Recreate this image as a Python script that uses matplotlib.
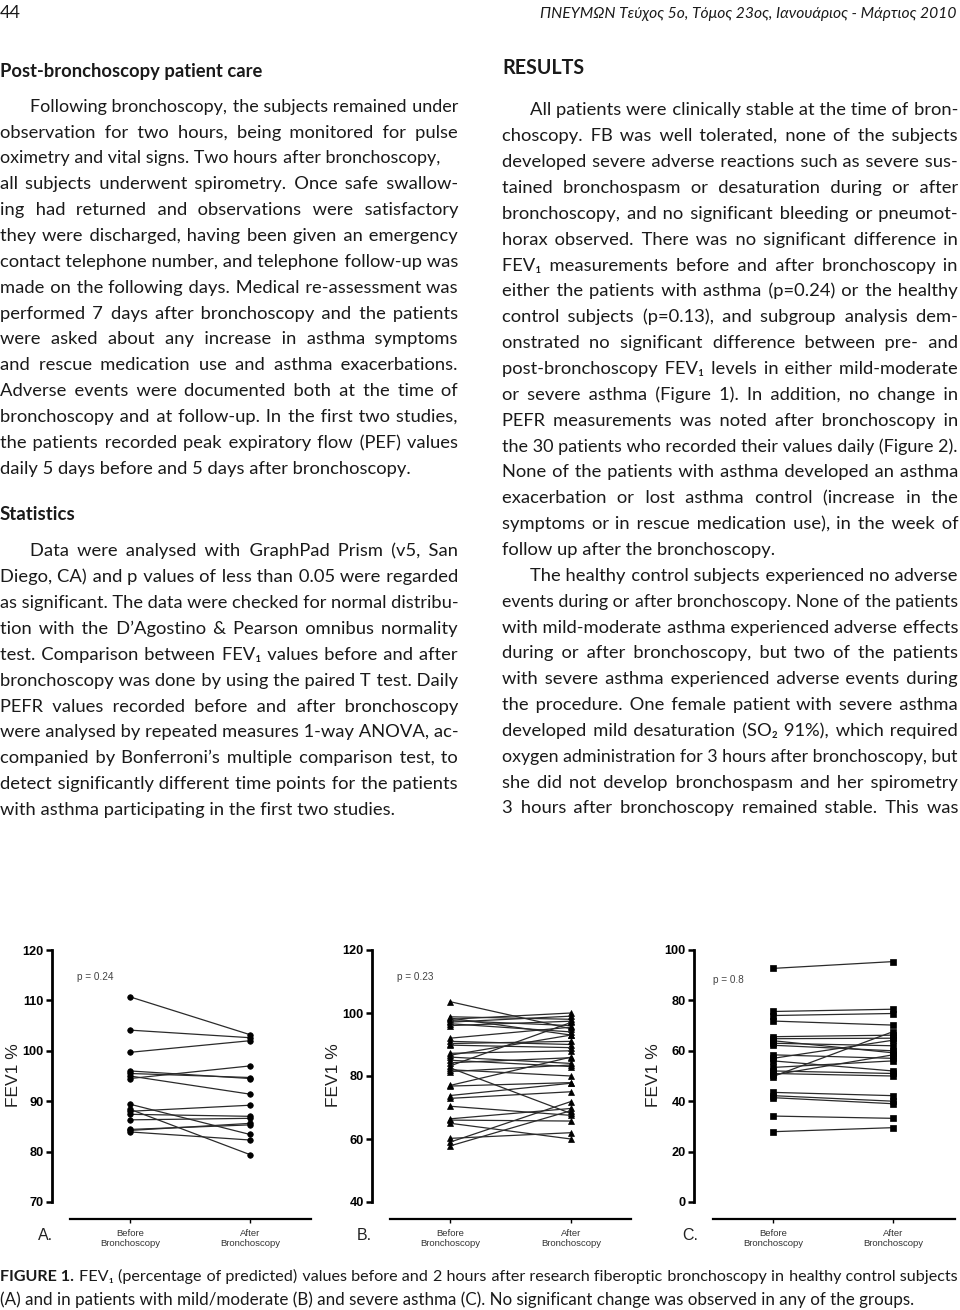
import matplotlib
matplotlib.use('Agg')
import matplotlib.pyplot as plt
from matplotlib.font_manager import FontProperties

# ---------------- data ----------------
a_before = [110.7, 104.1, 99.7, 96.0, 94.5, 95.0, 95.5, 89.4, 88.4, 88.0, 87.4, 86.3, 84.4, 84.2, 83.9]
a_after = [103.2, 102.6, 102.0, 94.5, 97.0, 91.4, 94.7, 83.4, 79.4, 89.2, 87.0, 86.6, 85.3, 85.6, 82.3]

b_before = [103.6, 98.8, 98.4, 98.0, 97.6, 97.1, 96.6, 96.0, 92.0, 91.0, 90.3, 89.8, 87.2, 86.6, 86.0,
            85.0, 84.2, 83.2, 82.6, 82.0, 81.4, 77.0, 76.8, 73.8, 72.9, 70.4, 66.4, 66.0, 65.0, 60.2, 59.0, 57.8]
b_after = [95.0, 98.0, 93.0, 100.0, 96.0, 99.0, 94.0, 97.4, 95.5, 90.0, 91.0, 89.0, 88.0, 93.0, 84.0,
           83.0, 85.8, 97.0, 68.1, 80.0, 83.5, 86.0, 77.9, 77.7, 75.0, 67.5, 69.7, 65.7, 60.0, 62.0, 71.9, 69.0]

c_before = [92.7, 75.6, 74.0, 71.8, 65.6, 64.8, 64.0, 63.0, 62.2, 58.4, 57.0, 56.0, 53.4, 52.0, 51.0,
            49.8, 50.4, 43.5, 42.2, 41.4, 34.1, 27.9]
c_after = [95.4, 76.5, 74.8, 70.2, 66.2, 65.0, 59.2, 62.0, 60.0, 57.0, 64.2, 52.0, 56.0, 51.0, 50.0,
           67.6, 58.4, 42.2, 40.0, 39.0, 33.2, 29.5]

x_labels = ['Before\nBronchoscopy', 'After\nBronchoscopy']
p_values = ['p = 0.24', 'p = 0.23', 'p = 0.8']
panel_letters = ['A.', 'B.', 'C.']

left_heading = 'Post-bronchoscopy patient care'
left_par = [
    "Following bronchoscopy, the subjects remained under",
    "observation for two hours, being monitored for pulse",
    "oximetry and vital signs. Two hours after bronchoscopy,",
    "all subjects underwent spirometry. Once safe swallow-",
    "ing had returned and observations were satisfactory",
    "they were discharged, having been given an emergency",
    "contact telephone number, and telephone follow-up was",
    "made on the following days. Medical re-assessment was",
    "performed 7 days after bronchoscopy and the patients",
    "were asked about any increase in asthma symptoms",
    "and rescue medication use and asthma exacerbations.",
    "Adverse events were documented both at the time of",
    "bronchoscopy and at follow-up. In the first two studies,",
    "the patients recorded peak expiratory flow (PEF) values",
    "daily 5 days before and 5 days after bronchoscopy.",
]
stats_heading = 'Statistics'
stats_par = [
    "Data were analysed with GraphPad Prism (v5, San",
    "Diego, CA) and p values of less than 0.05 were regarded",
    "as significant. The data were checked for normal distribu-",
    "tion with the D\u2019Agostino & Pearson omnibus normality",
    "test. Comparison between FEV\u2081 values before and after",
    "bronchoscopy was done by using the paired T test. Daily",
    "PEFR values recorded before and after bronchoscopy",
    "were analysed by repeated measures 1-way ANOVA, ac-",
    "companied by Bonferroni\u2019s multiple comparison test, to",
    "detect significantly different time points for the patients",
    "with asthma participating in the first two studies.",
]
right_heading = 'RESULTS'
right_par = [
    "All patients were clinically stable at the time of bron-",
    "choscopy. FB was well tolerated, none of the subjects",
    "developed severe adverse reactions such as severe sus-",
    "tained bronchospasm or desaturation during or after",
    "bronchoscopy, and no significant bleeding or pneumot-",
    "horax observed. There was no significant difference in",
    "FEV\u2081 measurements before and after bronchoscopy in",
    "either the patients with asthma (p=0.24) or the healthy",
    "control subjects (p=0.13), and subgroup analysis dem-",
    "onstrated no significant difference between pre- and",
    "post-bronchoscopy FEV\u2081 levels in either mild-moderate",
    "or severe asthma (Figure 1). In addition, no change in",
    "PEFR measurements was noted after bronchoscopy in",
    "the 30 patients who recorded their values daily (Figure 2).",
    "None of the patients with asthma developed an asthma",
    "exacerbation or lost asthma control (increase in the",
    "symptoms or in rescue medication use), in the week of",
    "follow up after the bronchoscopy.",
    "The healthy control subjects experienced no adverse",
    "events during or after bronchoscopy. None of the patients",
    "with mild-moderate asthma experienced adverse effects",
    "during or after bronchoscopy, but two of the patients",
    "with severe asthma experienced adverse events during",
    "the procedure. One female patient with severe asthma",
    "developed mild desaturation (SO\u2082 91%), which required",
    "oxygen administration for 3 hours after bronchoscopy, but",
    "she did not develop bronchospasm and her spirometry",
    "3 hours after bronchoscopy remained stable. This was",
]
page_number = '44'
journal = 'ΠΝΕΥΜΩΝ Τεύχος 5ο, Τόμος 23ος, Ιανουάριος - Μάρτιος 2010'
caption_lead = 'FIGURE 1.'
caption1 = ("FEV\u2081 (percentage of predicted) values before and 2 hours after research "
            "fiberoptic bronchoscopy in healthy control subjects")
caption2 = ("(A) and in patients with mild/moderate (B) and severe asthma (C). No significant "
            "change was observed in any of the groups.")

# ---------------- figure ----------------
W, H = 960, 1310
fig = plt.figure(figsize=(9.6, 13.1), dpi=100)
fig.patch.set_facecolor('white')
renderer = fig.canvas.get_renderer()
BODY = ['Lato', 'DejaVu Sans']
TXT = '#1a1a1a'


def tw(s, size, weight='normal', style='normal', family=BODY):
    fp = FontProperties(family=family, size=size, weight=weight, style=style)
    w, h, d = renderer.get_text_width_height_descent(s, fp, ismath=False)
    return w


def build_line(x0, x1, text, size, justify=True, weight='normal', style='normal',
               family=BODY, fit=False):
    """Return (string, size) so that the single text spans x0..x1 (justified)."""
    words = text.split(' ')
    target = x1 - x0

    def measure(sz):
        ws = [tw(w, sz, weight, style, family) for w in words]
        sp = tw('a a', sz, weight, style, family) - tw('aa', sz, weight, style, family)
        hs = tw('a\u200aa', sz, weight, style, family) - tw('aa', sz, weight, style, family)
        return ws, sp, hs

    ws, sp, hs = measure(size)
    if fit:
        nat = tw(text, size, weight, style, family)
        size = size * target / nat
        ws, sp, hs = measure(size)
    n = len(words) - 1
    if not justify or n == 0:
        return text, size
    g = (target - sum(ws)) / n
    while g < sp * 0.97:
        size -= 0.08
        ws, sp, hs = measure(size)
        g = (target - sum(ws)) / n
    hair = '\u200a'
    if hs < 0.4:
        hair = '\u2009'
        hs = tw('a\u2009a', size, weight, style, family) - tw('aa', size, weight, style, family)
    extra = g - sp
    out = words[0]
    acc, used = 0.0, 0
    for w in words[1:]:
        acc += extra
        k = max(0, int(round(acc / hs)) - used)
        used += k
        out += ' ' + hair * k + w
    return out, size


def draw_line(x0, x1, base, text, size, justify=True, weight='normal', style='normal',
              family=BODY, fit=False, color=TXT):
    s, sz = build_line(x0, x1, text, size, justify, weight, style, family, fit)
    fig.text(x0 / W, 1 - base / H, s, fontsize=sz, weight=weight, style=style,
             family=family, va='baseline', ha='left', color=color)
    return sz


BS = 13.2   # body font size in points
LS = 25.85  # line spacing in pixels

# header
draw_line(0, 21, 18, page_number, 13, justify=False, fit=True)
draw_line(540, 955, 18, journal, 12, justify=False, style='italic', fit=True)

# left column
draw_line(0, 262, 77, left_heading, 14, justify=False, weight='bold', fit=True)
ends = {2: 440}
for i, line in enumerate(left_par):
    x0 = 30 if i == 0 else 0
    last = i == len(left_par) - 1
    draw_line(x0, ends.get(i, 458), 111.7 + LS * i, line, BS, justify=not last)

draw_line(0, 76, 520, stats_heading, 14, justify=False, weight='bold', fit=True)
for i, line in enumerate(stats_par):
    x0 = 30 if i == 0 else 0
    last = i == len(stats_par) - 1
    draw_line(x0, 458, 556.5 + LS * i, line, BS, justify=not last)

# right column
draw_line(502, 584, 74, right_heading, 13, justify=False, weight='bold', fit=True)
for i, line in enumerate(right_par):
    x0 = 530 if i in (0, 18) else 502
    last = i == 17
    draw_line(x0, 958, 115.5 + LS * i, line, BS, justify=not last)

# caption
lead_w = tw(caption_lead + ' ', 11.6, 'bold')
fig.text(0, 1 - 1281 / H, caption_lead, fontsize=11.6, weight='bold', family=BODY,
         va='baseline', ha='left', color=TXT)
draw_line(lead_w + 1, 958, 1281, caption1, 11.6, justify=True)
draw_line(0, 912, 1305, caption2, 11.6, justify=False, fit=True)


# ---------------- panels ----------------
AXF = ['Liberation Sans', 'DejaVu Sans']


def panel(left, right, top, bottom, bx, axx, line_left, before, after, ylim, yticks,
          marker, ms, letter, pval, ptxt_xy, ylab_x):
    ax = fig.add_axes([left / W, 1 - bottom / H, (right - left) / W, (bottom - top) / H])
    ax.patch.set_alpha(0)
    scale = axx - bx
    xlim = ((left - bx) / scale, (right - bx) / scale)
    for b, a in zip(before, after):
        ax.plot([0, 1], [b, a], color='#2b2b2b', lw=0.9, marker=marker, ms=ms,
                mfc='black', mec='black', mew=0.5, clip_on=False, zorder=3)
    ax.set_xlim(xlim)
    ax.set_ylim(ylim)
    for s in ('top', 'right'):
        ax.spines[s].set_visible(False)
    ax.spines['left'].set_linewidth(2.0)
    ax.spines['bottom'].set_linewidth(1.6)
    ax.spines['bottom'].set_position(('outward', 17 * 0.72))
    ax.spines['bottom'].set_bounds((line_left - bx) / scale, xlim[1])
    ax.tick_params(axis='y', direction='out', length=4.5, width=1.8, pad=1.5,
                   colors='black', labelsize=9.2)
    ax.tick_params(axis='x', direction='out', length=3, width=1.0, pad=4,
                   labelsize=6.8, labelcolor='#333333')
    ax.set_yticks(yticks)
    ax.set_yticklabels([str(v) for v in yticks], fontweight='bold', family=AXF, fontsize=9.2)
    ax.set_xticks([0, 1])
    ax.set_xticklabels(x_labels, fontsize=6.8, family=AXF, color='#333333', linespacing=1.25)
    fig.text(ylab_x / W, 1 - 1075 / H, 'FEV1 %', rotation=90, ha='center', va='center',
             fontsize=12.5, family=AXF, color='#222222')
    fig.text(letter[1] / W, 1 - 1236 / H, letter[0], ha='left', va='center',
             fontsize=11.5, family=AXF, color='#222222')
    fig.text(ptxt_xy[0] / W, 1 - ptxt_xy[1] / H, pval, ha='left', va='center',
             fontsize=7.2, family=AXF, color='#444444')
    return ax


panel(52, 311, 950, 1202, 130, 250, 70, a_before, a_after, (70, 120),
      [70, 80, 90, 100, 110, 120], 'o', 4.0, (panel_letters[0], 38), p_values[0], (77, 977), 13)
panel(372, 631, 950, 1202, 450, 571, 390, b_before, b_after, (40, 120),
      [40, 60, 80, 100, 120], '^', 4.2, (panel_letters[1], 357), p_values[1], (397, 977), 333)
panel(694, 955, 950, 1202, 773, 893, 713, c_before, c_after, (0, 100),
      [0, 20, 40, 60, 80, 100], 's', 4.6, (panel_letters[2], 682), p_values[2], (713, 980), 653)

fig.savefig('out.png', dpi=100, facecolor='white')
